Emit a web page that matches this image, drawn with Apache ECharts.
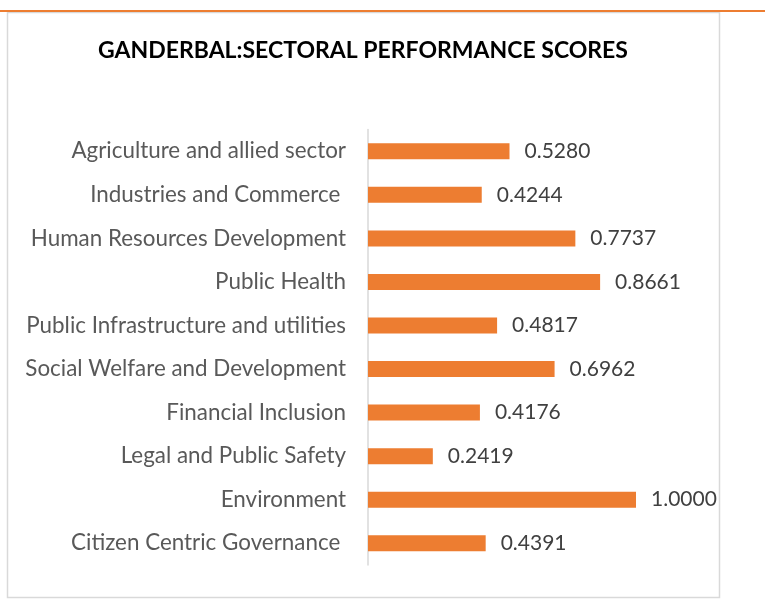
<!DOCTYPE html>
<html>
<head>
<meta charset="utf-8">
<title>Ganderbal: Sectoral Performance Scores</title>
<script src="https://cdn.jsdelivr.net/npm/echarts@6/dist/echarts.min.js"></script>
<style>
  html, body { margin: 0; padding: 0; background: #ffffff; }
  #chart { width: 765px; height: 614px; }
</style>
</head>
<body>
<div id="chart"></div>
<script>
// Sectors, listed top to bottom
const sectors = [
  'Agriculture and allied sector',
  'Industries and Commerce ',
  'Human Resources Development',
  'Public Health',
  'Public Infrastructure and utilities',
  'Social Welfare and Development',
  'Financial Inclusion',
  'Legal and Public Safety',
  'Environment',
  'Citizen Centric Governance '
];

// Performance score for each sector
const scores = [0.5280, 0.4244, 0.7737, 0.8661, 0.4817, 0.6962, 0.4176, 0.2419, 1.0000, 0.4391];

const titleText = 'GANDERBAL:SECTORAL PERFORMANCE SCORES';

const FONT = 'Lato, "Open Sans", sans-serif';

const chart = echarts.init(document.getElementById('chart'), null, { renderer: 'canvas' });

chart.setOption({
  backgroundColor: '#ffffff',
  animation: false,
  title: {
    text: titleText,
    left: 358,
    textAlign: 'center',
    top: 34,
    textStyle: {
      fontFamily: FONT,
      fontWeight: 'bold',
      fontSize: 23,
      color: '#000000'
    }
  },
  graphic: [
    {
      type: 'rect',
      shape: { x: 0, y: 10, width: 765, height: 2 },
      style: { fill: '#ED7D31' },
      z: 10
    },
    {
      type: 'rect',
      shape: { x: 7.5, y: 12.5, width: 712, height: 585 },
      style: { fill: 'none', stroke: '#D9D9D9', lineWidth: 1.5 },
      z: 0
    }
  ],
  grid: {
    left: 368,
    top: 129.5,
    width: 321.6,
    height: 435.5,
    containLabel: false
  },
  xAxis: {
    type: 'value',
    min: 0,
    max: 1.2,
    show: false
  },
  yAxis: {
    type: 'category',
    data: sectors,
    inverse: true,
    axisLine: { show: true, lineStyle: { color: '#D9D9D9', width: 1.5 } },
    axisTick: { show: false },
    axisLabel: {
      margin: 22,
      fontFamily: FONT,
      fontSize: 22.4,
      color: '#595959'
    },
    splitLine: { show: false }
  },
  series: [
    {
      type: 'bar',
      data: scores,
      barWidth: 16,
      itemStyle: { color: '#ED7D31' },
      label: {
        show: true,
        position: 'right',
        distance: 15,
        formatter: p => p.value.toFixed(4),
        fontFamily: FONT,
        fontSize: 21,
        color: '#404040'
      }
    }
  ]
});
</script>
</body>
</html>
